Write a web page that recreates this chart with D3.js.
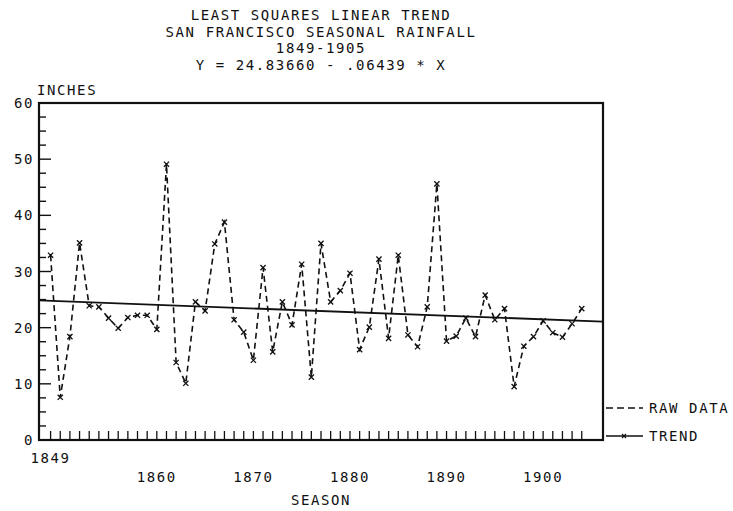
<!DOCTYPE html>
<html>
<head>
<meta charset="utf-8">
<script src="https://cdn.jsdelivr.net/npm/d3@7"></script>
<style>
  body { margin: 0; background: #fff; }
  svg text { font-family: "DejaVu Sans Mono", monospace; font-size: 14px; fill: #111; letter-spacing: 1.6px; }
</style>
</head>
<body>
<svg id="chart" width="733" height="511"></svg>
<script>

// season start years (1849-50 .. 1904-05) and rainfall in inches
var seasons = d3.range(1849, 1905);
var rainfall = [32.9, 7.6, 18.4, 35.1, 23.9, 23.7, 21.7, 19.9, 21.8, 22.2,
                22.2, 19.7, 49.1, 13.8, 10.1, 24.6, 23.0, 34.9, 38.8, 21.4,
                19.2, 14.2, 30.7, 15.7, 24.6, 20.5, 31.3, 11.2, 35.0, 24.6,
                26.6, 29.7, 16.1, 20.1, 32.2, 18.1, 32.9, 18.7, 16.6, 23.7,
                45.6, 17.6, 18.5, 21.7, 18.4, 25.8, 21.4, 23.4, 9.5, 16.7,
                18.4, 21.2, 19.1, 18.3, 20.7, 23.4];

// trend: Y = a + b * X, X = 1 for first season
var trendA = 24.83660;
var trendB = -0.06439;

var titleLines = ["LEAST SQUARES LINEAR TREND",
                  "SAN FRANCISCO SEASONAL RAINFALL",
                  "1849-1905",
                  "Y = 24.83660 - .06439 * X"];
var yTickLabels = [0, 10, 20, 30, 40, 50, 60];
var xTickLabels = [1860, 1870, 1880, 1890, 1900];
var legendLabels = ["RAW DATA", "TREND"];

var svg = d3.select("#chart");

var plotL = 39, plotR = 603, plotT = 103, plotB = 440;

var x = d3.scaleLinear().domain([1847.8, 1906.2]).range([plotL, plotR]);
var y = d3.scaleLinear().domain([0, 60]).range([plotB, plotT]);

var data = seasons.map(function(s, i) { return {year: s, value: rainfall[i]}; });

function trend(year) {
    return trendA + trendB * (year - 1848);
}

// title
svg.selectAll("text.title")
    .data(titleLines)
    .enter().append("text")
    .attr("class", "title")
    .attr("x", (plotL + plotR) / 2)
    .attr("y", function(d, i) { return 20 + i * 16.5; })
    .attr("text-anchor", "middle")
    .text(function(d) { return d; });

// frame
svg.append("rect")
    .attr("x", plotL).attr("y", plotT)
    .attr("width", plotR - plotL).attr("height", plotB - plotT)
    .attr("fill", "none").attr("stroke", "#111").attr("stroke-width", 2.2);

// y ticks every 2.5, longer at labels
var yTicks = d3.range(0, 60.01, 2.5);
svg.selectAll("line.ytick")
    .data(yTicks)
    .enter().append("line")
    .attr("x1", plotL)
    .attr("x2", function(d) { return plotL + (d % 10 === 0 ? 12 : 7); })
    .attr("y1", function(d) { return y(d); })
    .attr("y2", function(d) { return y(d); })
    .attr("stroke", "#111").attr("stroke-width", 1.4);

svg.selectAll("text.ylab")
    .data(yTickLabels)
    .enter().append("text")
    .attr("x", plotL - 5)
    .attr("y", function(d) { return y(d) + 5; })
    .attr("text-anchor", "end")
    .text(function(d) { return d; });

svg.append("text")
    .attr("x", plotL - 2).attr("y", plotT - 8)
    .text("INCHES");

// x ticks every season
svg.selectAll("line.xtick")
    .data(seasons)
    .enter().append("line")
    .attr("x1", function(d) { return x(d); })
    .attr("x2", function(d) { return x(d); })
    .attr("y1", plotB)
    .attr("y2", plotB - 9)
    .attr("stroke", "#111").attr("stroke-width", 1.3);

svg.append("text")
    .attr("x", x(1849)).attr("y", 463)
    .attr("text-anchor", "middle")
    .text("1849");

svg.selectAll("text.xlab")
    .data(xTickLabels)
    .enter().append("text")
    .attr("x", function(d) { return x(d); })
    .attr("y", 482)
    .attr("text-anchor", "middle")
    .text(function(d) { return d; });

svg.append("text")
    .attr("x", (plotL + plotR) / 2).attr("y", 505)
    .attr("text-anchor", "middle")
    .text("SEASON");

// trend line
var x0 = x.domain()[0], x1 = x.domain()[1];
svg.append("line")
    .attr("x1", x(x0)).attr("y1", y(trend(x0)))
    .attr("x2", x(x1)).attr("y2", y(trend(x1)))
    .attr("stroke", "#111").attr("stroke-width", 1.8);

// raw data, dashed
var line = d3.line()
    .x(function(d) { return x(d.year); })
    .y(function(d) { return y(d.value); });

svg.append("path")
    .datum(data)
    .attr("d", line)
    .attr("fill", "none")
    .attr("stroke", "#111")
    .attr("stroke-width", 1.6)
    .attr("stroke-dasharray", "6,4");

var m = 2.6;
svg.selectAll("path.mark")
    .data(data)
    .enter().append("path")
    .attr("d", function(d) {
        var cx = x(d.year), cy = y(d.value);
        return "M" + (cx - m) + "," + (cy - m) + "L" + (cx + m) + "," + (cy + m) +
               "M" + (cx - m) + "," + (cy + m) + "L" + (cx + m) + "," + (cy - m);
    })
    .attr("stroke", "#111").attr("stroke-width", 1.3);

// legend
var legY = [408, 436];
svg.append("line")
    .attr("x1", plotR + 3).attr("x2", plotR + 40)
    .attr("y1", legY[0]).attr("y2", legY[0])
    .attr("stroke", "#111").attr("stroke-width", 1.6)
    .attr("stroke-dasharray", "7,4");
svg.append("line")
    .attr("x1", plotR + 3).attr("x2", plotR + 40)
    .attr("y1", legY[1]).attr("y2", legY[1])
    .attr("stroke", "#111").attr("stroke-width", 1.6);
svg.append("path")
    .attr("d", "M" + (plotR + 19) + "," + (legY[1] - 2) + "L" + (plotR + 23) + "," + (legY[1] + 2) +
               "M" + (plotR + 19) + "," + (legY[1] + 2) + "L" + (plotR + 23) + "," + (legY[1] - 2))
    .attr("stroke", "#111").attr("stroke-width", 1.2);

svg.selectAll("text.leg")
    .data(legendLabels)
    .enter().append("text")
    .attr("x", plotR + 46)
    .attr("y", function(d, i) { return legY[i] + 5; })
    .text(function(d) { return d; });

</script>
</body>
</html>
